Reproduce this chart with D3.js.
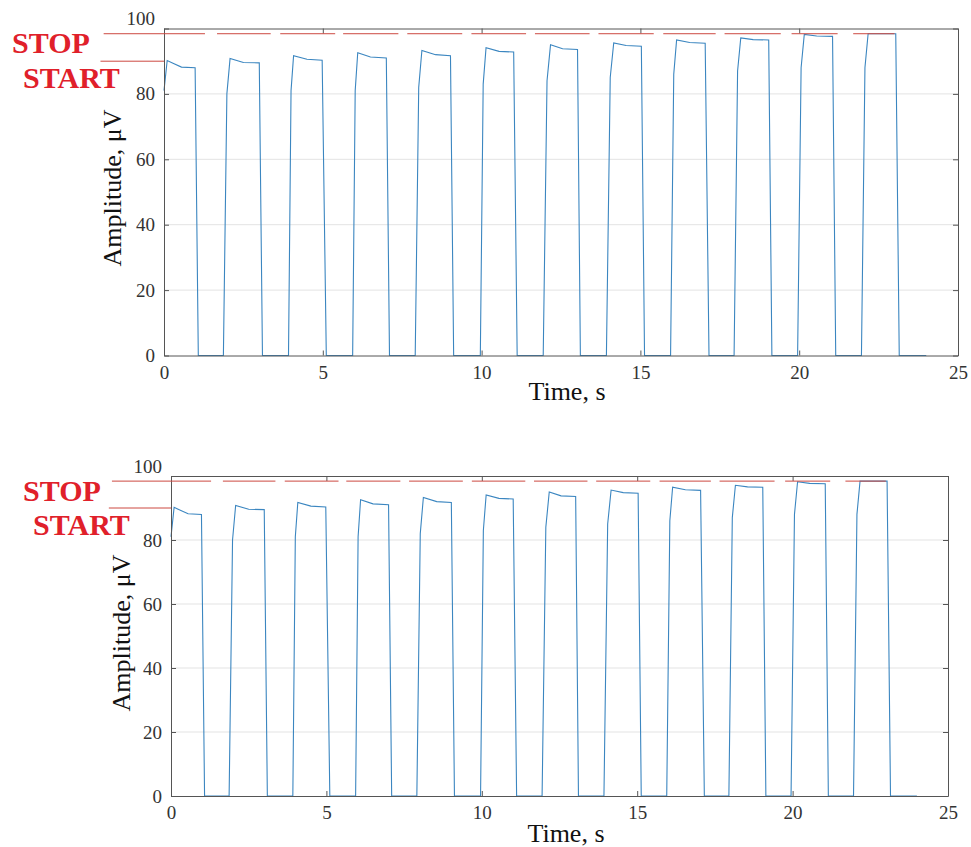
<!doctype html>
<html>
<head>
<meta charset="utf-8">
<style>
  body { margin: 0; background: #fff; }
  svg text { font-family: "Liberation Serif", "Times New Roman", serif; }
</style>
<script src="https://d3js.org/d3.v7.min.js"></script>
</head>
<body>
<svg width="971" height="847"></svg>
<script>
// signal samples (s, µV)
var time = [0, 0.1, 0.3, 0.55, 0.98, 1.08,
  1.87, 1.98, 2.08, 2.5, 3.0, 3.10,
  3.92, 4.0, 4.08, 4.5, 4.98, 5.11,
  5.94, 6.02, 6.10, 6.5, 7.0, 7.10,
  7.91, 8.02, 8.12, 8.55, 9.02, 9.12,
  9.96, 10.05, 10.14, 10.55, 11.01, 11.12,
  11.94, 12.06, 12.17, 12.55, 13.02, 13.11,
  13.93, 14.05, 14.16, 14.55, 15.03, 15.13,
  15.95, 16.05, 16.14, 16.55, 17.04, 17.16,
  17.95, 18.06, 18.16, 18.55, 19.04, 19.14,
  19.95, 20.06, 20.16, 20.55, 21.05, 21.15,
  21.96, 22.07, 22.17, 22.6, 23.04, 23.15,
  24.0];
var amplitude = [81, 90.2, 89.3, 88.2, 88.0, 0,
  0, 80, 90.8, 89.6, 89.5, 0,
  0, 81, 91.7, 90.6, 90.3, 0,
  0, 81, 92.6, 91.3, 91.0, 0,
  0, 82, 93.3, 92.0, 91.7, 0,
  0, 83, 94.1, 93.0, 92.8, 0,
  0, 84, 95.0, 93.8, 93.6, 0,
  0, 85, 95.6, 94.8, 94.6, 0,
  0, 86, 96.5, 95.7, 95.5, 0,
  0, 87, 97.1, 96.6, 96.5, 0,
  0, 88, 98.2, 97.7, 97.6, 0,
  0, 88, 98.4, 98.4, 98.4, 0,
  0];

var xTicks = [0, 5, 10, 15, 20, 25];
var yTicks = [0, 20, 40, 60, 80, 100];

// threshold levels
var stopLevel = 98.4, startLevel = 90;
var stopFrom = -1.9, stopTo = 23.0, startFrom = -2.0;
var stopGaps = [[1.29, 1.67], [3.36, 3.66], [5.39, 5.64], [7.38, 7.66], [9.39, 9.68],
  [11.4, 11.68], [13.4, 13.68], [15.42, 15.72], [17.37, 17.65], [19.42, 19.76], [21.21, 21.70]];

var svg = d3.select("svg");
var points = time.map(function(t, i) { return [t, amplitude[i]]; });
var serif = "Liberation Serif, Times New Roman, serif";

// stop line pieces between the gaps
var stopPieces = [];
var s0 = stopFrom;
stopGaps.forEach(function(g) { stopPieces.push([s0, g[0]]); s0 = g[1]; });
stopPieces.push([s0, stopTo]);

function panel(p) {
  var x = d3.scaleLinear().domain([0, 25]).range([p.left, p.right]);
  var y = d3.scaleLinear().domain([0, 100]).range([p.bottom, p.top]);
  var g = svg.append("g");

  // grid
  g.append("g").selectAll("line").data(yTicks.slice(1, -1)).enter().append("line")
    .attr("x1", p.left).attr("x2", p.right)
    .attr("y1", function(d) { return y(d); }).attr("y2", function(d) { return y(d); })
    .style("stroke", "#e3e3e3").style("stroke-width", 1);

  // signal
  g.append("path").datum(points)
    .attr("d", d3.line().x(function(d) { return x(d[0]); }).y(function(d) { return y(d[1]); }))
    .style("fill", "none").style("stroke", "#3b86c0").style("stroke-width", 1.1);

  // box with inward ticks
  var ax = "#555";
  g.append("g").attr("transform", "translate(0," + p.bottom + ")")
    .call(d3.axisBottom(x).tickValues(xTicks).tickSizeInner(-5).tickSizeOuter(0).tickPadding(10))
    .attr("font-family", serif).attr("font-size", 19)
    .call(function(s) {
      s.select(".domain").style("stroke", ax);
      s.selectAll(".tick line").style("stroke", ax);
      s.selectAll("text").style("fill", "#333");
    });
  g.append("g").attr("transform", "translate(0," + p.top + ")")
    .call(d3.axisTop(x).tickValues(xTicks).tickSizeInner(-5).tickSizeOuter(0).tickFormat(""))
    .call(function(s) { s.selectAll("path,line").style("stroke", ax); });
  g.append("g").attr("transform", "translate(" + p.left + ",0)")
    .call(d3.axisLeft(y).tickValues(yTicks).tickSizeInner(-5).tickSizeOuter(0).tickPadding(9))
    .attr("font-family", serif).attr("font-size", 19)
    .call(function(s) {
      s.select(".domain").style("stroke", ax);
      s.selectAll(".tick line").style("stroke", ax);
      s.selectAll("text").style("fill", "#333")
        .attr("dy", function(d) { return d === 100 ? "-0.2em" : "0.32em"; });
    });
  g.append("g").attr("transform", "translate(" + p.right + ",0)")
    .call(d3.axisRight(y).tickValues(yTicks).tickSizeInner(-5).tickSizeOuter(0).tickFormat(""))
    .call(function(s) { s.selectAll("path,line").style("stroke", ax); });

  // thresholds
  g.append("g").selectAll("line").data(stopPieces).enter().append("line")
    .attr("x1", function(d) { return x(d[0]); }).attr("x2", function(d) { return x(d[1]); })
    .attr("y1", y(stopLevel)).attr("y2", y(stopLevel))
    .style("stroke", "#cc4840").style("stroke-width", 1);
  g.append("line")
    .attr("x1", x(startFrom)).attr("x2", x(0))
    .attr("y1", y(startLevel)).attr("y2", y(startLevel))
    .style("stroke", "#cc4840").style("stroke-width", 1);

  g.append("text").text("STOP")
    .attr("x", p.stopX).attr("y", p.stopY)
    .style("font-size", "30px").style("font-weight", "bold").style("fill", "#e0202a");
  g.append("text").text("START")
    .attr("x", p.startX).attr("y", p.startY)
    .style("font-size", "30px").style("font-weight", "bold").style("fill", "#e0202a");

  // axis titles
  g.append("text").text("Time, s")
    .attr("x", p.xLabelX).attr("y", p.xLabelY)
    .attr("text-anchor", "middle").style("font-size", "26px").style("fill", "#111");
  g.append("text").text("Amplitude, μV")
    .attr("transform", "translate(" + p.yLabelX + "," + p.yLabelY + ") rotate(-90)")
    .attr("text-anchor", "middle").style("font-size", "26px").style("fill", "#111");
}

panel({ left: 164, right: 958, top: 28.5, bottom: 355.5,
  stopX: 12, stopY: 53, startX: 23, startY: 88,
  xLabelX: 567, xLabelY: 400, yLabelX: 121, yLabelY: 188 });
panel({ left: 171, right: 948, top: 476, bottom: 796,
  stopX: 23, stopY: 501, startX: 33, startY: 535,
  xLabelX: 566, xLabelY: 842, yLabelX: 130, yLabelY: 633 });
</script>
</body>
</html>
